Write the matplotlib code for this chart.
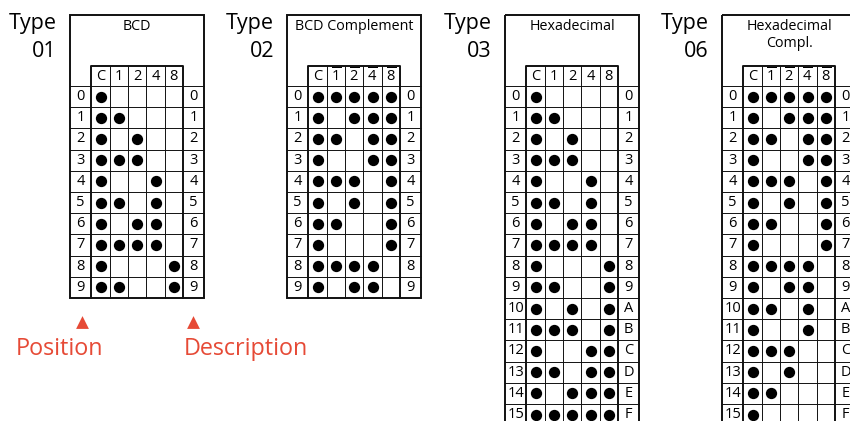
import numpy as np
import matplotlib
matplotlib.use('Agg')
import matplotlib.pyplot as plt
from matplotlib.patches import Rectangle

plt.rcParams['font.family'] = ['Open Sans', 'DejaVu Sans']
plt.rcParams['mathtext.fontset'] = 'custom'
plt.rcParams['mathtext.rm'] = 'Open Sans'

# --- data ---------------------------------------------------------------
TYPE_IDS = ['01', '02', '03', '06']
TITLES = ['BCD', 'BCD Complement', 'Hexadecimal', 'Hexadecimal\nCompl.']
BITS = ['C', '1', '2', '4', '8']
BITS_COMPL = ['C', r'$\overline{\mathrm{1}}$', r'$\overline{\mathrm{2}}$',
              r'$\overline{\mathrm{4}}$', r'$\overline{\mathrm{8}}$']
POS_LABELS = ['0', '1', '2', '3', '4', '5', '6', '7', '8', '9',
              '10', '11', '12', '13', '14', '15']
DESC_LABELS = ['0', '1', '2', '3', '4', '5', '6', '7', '8', '9',
               'A', 'B', 'C', 'D', 'E', 'F']

# one string per row, one char per column (C 1 2 4 8), '1' = punched
BCD = ['10000', '11000', '10100', '11100', '10010',
       '11010', '10110', '11110', '10001', '11001']
BCD_COMPL = ['11111', '10111', '11011', '10011', '11101',
             '10101', '11001', '10001', '11110', '10110']
HEX = BCD + ['10101', '11101', '10011', '11011', '10111', '11111']
HEX_COMPL = BCD_COMPL + ['11010', '10010', '11100', '10100', '11000', '10000']

TABLES = [BCD, BCD_COMPL, HEX, HEX_COMPL]
HEADERS = [BITS, BITS_COMPL, BITS, BITS_COMPL]

# --- layout (pixels) ------------------------------------------------------
PANEL_X = [70, 287, 505, 722]
LAB_W = 21.5
COL_W = 18.3
BOX_TOP = 15
HEAD_TOP = 66
ROW_TOP = 86
ROW_H = 21.2
RED = '#e64a36'
INK = '#111111'

fig = plt.figure(figsize=(8.5, 4.21), dpi=100)
ax = fig.add_axes([0, 0, 1, 1])
ax.set_xlim(0, 850)
ax.set_ylim(421, 0)
ax.axis('off')

for x0, tid, title, rows, heads in zip(PANEL_X, TYPE_IDS, TITLES, TABLES, HEADERS):
    n = len(rows)
    xa = x0 + LAB_W
    xb = xa + 5 * COL_W
    x1 = xb + LAB_W
    ybot = ROW_TOP + n * ROW_H

    ax.add_patch(Rectangle((x0, BOX_TOP), x1 - x0, ybot - BOX_TOP,
                           fill=False, ec=INK, lw=1.4))
    # header box
    ax.plot([xa, xa, xb, xb], [ybot, HEAD_TOP, HEAD_TOP, ybot], color=INK, lw=1.4)
    for j in range(1, 5):
        ax.plot([xa + j * COL_W] * 2, [HEAD_TOP, ybot], color=INK, lw=0.7)
    for i in range(n):
        y = ROW_TOP + i * ROW_H
        ax.plot([x0, x1], [y, y], color=INK, lw=0.7)

    ax.text((x0 + x1) / 2, 27 if '\n' not in title else 35, title, ha='center',
            va='center', fontsize=10.3, linespacing=1.25)
    ax.text(x0 - 13, 29, 'Type', ha='right', va='baseline', fontsize=15.5)
    ax.text(x0 - 13, 57, tid, ha='right', va='baseline', fontsize=15.5)

    for j, h in enumerate(heads):
        ax.text(xa + (j + 0.5) * COL_W, (HEAD_TOP + ROW_TOP) / 2 + 0.5, h,
                ha='center', va='center', fontsize=10.5)

    xs, ys = [], []
    for i, r in enumerate(rows):
        yc = ROW_TOP + (i + 0.5) * ROW_H
        ax.text(x0 + LAB_W / 2, yc, POS_LABELS[i], ha='center', va='center', fontsize=10.5)
        ax.text(xb + LAB_W / 2, yc, DESC_LABELS[i], ha='center', va='center', fontsize=10.5)
        for j, c in enumerate(r):
            if c == '1':
                xs.append(xa + (j + 0.5) * COL_W)
                ys.append(yc)
    ax.scatter(xs, ys, s=66, color='black', lw=0, zorder=3)

# annotations under the first table
x0 = PANEL_X[0]
tri_x = [x0 + LAB_W / 2 + 1.5, x0 + LAB_W + 5 * COL_W + LAB_W / 2 - 1]
ax.scatter(tri_x, [322, 322], marker='^', s=85, color=RED, lw=0)
ax.text(60, 355, 'Position', ha='center', va='baseline', fontsize=16.8, color=RED)
ax.text(246, 355, 'Description', ha='center', va='baseline', fontsize=16.8, color=RED)

fig.savefig('out.png', dpi=100)
